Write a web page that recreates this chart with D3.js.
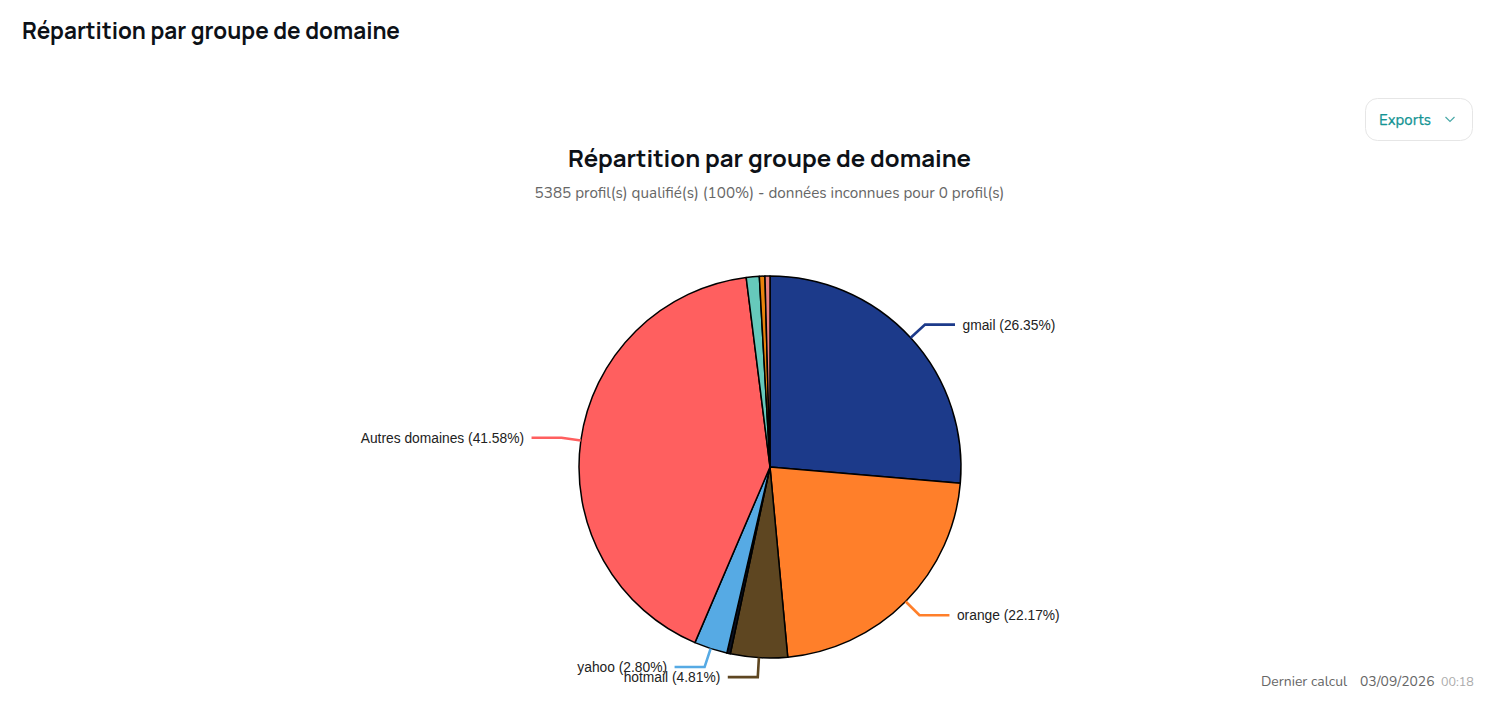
<!DOCTYPE html>
<html><head><meta charset="utf-8">
<script src="https://cdn.jsdelivr.net/npm/d3@7/dist/d3.min.js"></script>
<style>html,body{margin:0;padding:0;background:#fff}svg{display:block}</style>
</head><body><svg id="c" width="1505" height="711"></svg>
<script>
const categories=["gmail","orange","hotmail","free","yahoo","Autres domaines","laposte","sfr","wanadoo"];
const values=[26.35,22.17,4.81,0.30,2.80,41.58,1.10,0.47,0.42];
const colors=["#1c3a8a","#ff7f2a","#5e4621","#0b1020","#56aae4","#ff5f5f","#66c9bb","#e8830c","#e98080"];
const labelled=["gmail","orange","hotmail","yahoo","Autres domaines"];
const titleText="Répartition par groupe de domaine";
const subtitleText="5385 profil(s) qualifié(s) (100%) - données inconnues pour 0 profil(s)";
const svg=d3.select("#c");
const headFont="Manrope, Inter, 'Noto Sans', sans-serif", bodyFont="Nunito, Lato, 'Open Sans', sans-serif";
const text=(x,y,s,size,fill,anchor,font,weight)=>svg.append("text").attr("x",x).attr("y",y).text(s)
 .attr("font-size",size).attr("fill",fill).attr("text-anchor",anchor||"start").attr("font-family",font).attr("font-weight",weight||400);
text(22,39,titleText,22.5,"#0d1117","start",headFont,700);
text(769.5,167,titleText,24,"#0d1117","middle",headFont,700);
text(769.5,198,subtitleText,15.25,"#666666","middle",bodyFont);
svg.append("rect").attr("x",1365.5).attr("y",98.5).attr("width",107).attr("height",42).attr("rx",12).attr("fill","#fff").attr("stroke","#e6e6e6");
text(1379,125,"Exports",15,"#149494","start",bodyFont,400).attr("stroke","#149494").attr("stroke-width",0.25);
svg.append("path").attr("d","M1445.5 117 L1450 121.5 L1454.5 117").attr("fill","none").attr("stroke","#4aa9a8").attr("stroke-width",1.2);
text(1261,686,"Dernier calcul",13.95,"#666666","start",bodyFont);
text(1360,686,"03/09/2026",13.9,"#666666","start",bodyFont);
text(1441,686,"00:18",12.5,"#aaaaaa","start",bodyFont);

const cx=770,cy=467,R=191,elbowR=210.5;
const pie=d3.pie().sort(null).value((d,i)=>values[i]);
const arcs=pie(categories);
const arc=d3.arc().innerRadius(0).outerRadius(R);
const color=d3.scaleOrdinal(categories,colors);
const g=svg.append("g").attr("transform",`translate(${cx},${cy})`);
g.selectAll("path.s").data(arcs).join("path").attr("class","s").attr("d",arc)
 .attr("fill",d=>color(d.data)).attr("stroke","#000").attr("stroke-width",1.5).attr("stroke-linejoin","round");
arcs.filter(d=>labelled.includes(d.data)).forEach(d=>{
  const a=(d.startAngle+d.endAngle)/2, sx=Math.sin(a), cyy=-Math.cos(a);
  const side=sx>=0?1:-1;
  const ex=elbowR*sx, ey=elbowR*cyy, tx=ex+side*30;
  g.append("path").attr("d",d3.line()([[R*sx,R*cyy],[ex,ey],[tx,ey]])).attr("fill","none")
   .attr("stroke",color(d.data)).attr("stroke-width",2.6);
  g.append("text").attr("x",tx+side*7.5).attr("y",ey+5).attr("text-anchor",side>0?"start":"end")
   .attr("font-family","'Liberation Sans',Arial,sans-serif").attr("font-size",13.8).attr("fill","#222")
   .text(`${d.data} (${values[d.index].toFixed(2)}%)`);
});
</script></body></html>
